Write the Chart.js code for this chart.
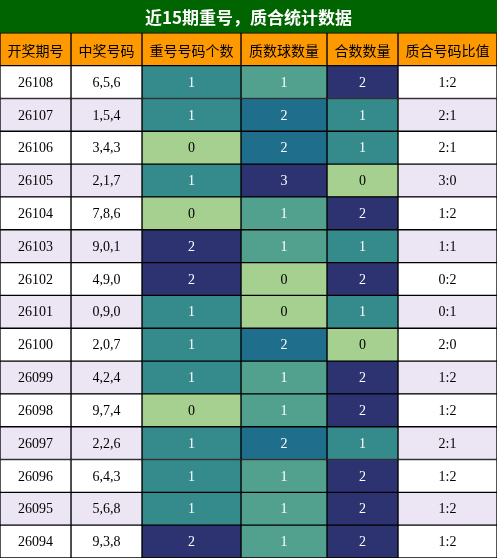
<!DOCTYPE html><html><head><meta charset="utf-8">
<script src="https://cdn.jsdelivr.net/npm/chart.js"></script>
<style>html,body{margin:0;padding:0;background:#fff}</style></head><body>
<canvas id="c" width="497" height="558"></canvas>
<script>
const title = "近15期重号，质合统计数据";
const headers = ["开奖期号","中奖号码","重号号码个数","质数球数量","合数数量","质合号码比值"];
const periods = ["26108","26107","26106","26105","26104","26103","26102","26101","26100","26099","26098","26097","26096","26095","26094"];
const numbers = ["6,5,6","1,5,4","3,4,3","2,1,7","7,8,6","9,0,1","4,9,0","0,9,0","2,0,7","4,2,4","9,7,4","2,2,6","6,4,3","5,6,8","9,3,8"];
const repeatCnt = [1,1,0,1,0,2,2,1,1,1,0,1,1,1,2];
const primeCnt = [1,2,2,3,1,1,0,0,2,1,1,2,1,1,1];
const compositeCnt = [2,1,1,0,2,1,2,1,0,2,2,1,2,2,2];
const ratios = ["1:2","2:1","2:1","3:0","1:2","1:1","0:2","0:1","2:0","1:2","1:2","2:1","1:2","1:2","1:2"];
const colWidths = [71,71,99,86,71,99];

const rowLabels = ["title","header"].concat(periods);
const cols = [periods, numbers, repeatCnt, primeCnt, compositeCnt, ratios];
const rowBg = i => (i % 2 === 0 ? "#ffffff" : "#ece6f4");
const palA = {0:"#a6d08f",1:"#358a8c",2:"#2d3270"};
const palP = {0:"#a6d08f",1:"#52a08e",2:"#1f6e8c",3:"#2d3270"};
function cellColor(c, r){ // r index in rowLabels
  if (r === 0) return "#006400";
  if (r === 1) return "#ff9900";
  const v = cols[c][r-2];
  if (c === 2 || c === 4) return palA[v];
  if (c === 3) return palP[v];
  return rowBg(r-2);
}
function cellText(c, r){
  if (r === 0) return c === 0 ? title : "";
  if (r === 1) return headers[c];
  return String(cols[c][r-2]);
}
function textColor(c, r){
  if (r === 0) return "#fff";
  if (r === 1) return "#000";
  if (c >= 2 && c <= 4) return cols[c][r-2] === 0 ? "#000" : "#fff";
  return "#000";
}
const datasets = colWidths.map((w, c) => ({
  data: rowLabels.map(() => w),
  backgroundColor: rowLabels.map((_, r) => cellColor(c, r)),
  borderColor: "#000",
  borderWidth: rowLabels.map((_, r) => r === 0 ? 0 : 1),
  borderSkipped: false,
  barPercentage: 1, categoryPercentage: 1
}));
const textPlugin = {
  id: "txt",
  afterDatasetsDraw(chart){
    const ctx = chart.ctx;
    ctx.save(); ctx.textAlign = "center"; ctx.textBaseline = "middle";
    chart.data.datasets.forEach((ds, c) => {
      chart.getDatasetMeta(c).data.forEach((el, r) => {
        const t = cellText(c, r); if (!t) return;
        let x = (el.x + el.base) / 2;
        if (r === 0) {
          x = (chart.chartArea.left + chart.chartArea.right) / 2;
          ctx.font = "bold 17px 'Noto Sans CJK SC', sans-serif";
        } else if (r === 1) {
          ctx.font = "14px 'Noto Sans CJK SC', sans-serif";
        } else {
          ctx.font = "14px 'Liberation Serif', 'Noto Sans CJK SC', serif";
        }
        ctx.fillStyle = textColor(c, r);
        ctx.fillText(t, x, el.y + 1);
      });
    });
    ctx.restore();
  }
};
new Chart(document.getElementById("c"), {
  type: "bar",
  data: { labels: rowLabels, datasets },
  options: {
    indexAxis: "y", responsive: false, animation: false,
    layout: { padding: 0 },
    plugins: { legend: {display:false}, tooltip: {enabled:false}, title:{display:false} },
    scales: {
      x: { stacked: true, min: 0, max: 497, display: false },
      y: { stacked: true, display: false }
    }
  },
  plugins: [textPlugin]
});
</script></body></html>
